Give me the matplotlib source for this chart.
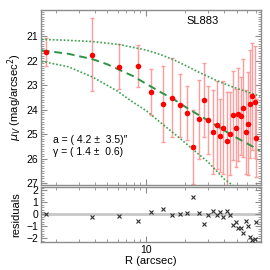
import matplotlib
matplotlib.use("Agg")
from matplotlib import pyplot as plt
from matplotlib.ticker import MultipleLocator, LogLocator, NullFormatter, FixedLocator

plt.rcParams['font.family'] = ['Liberation Sans', 'DejaVu Sans']
plt.rcParams['font.size'] = 8

# surface brightness profile (R in arcsec, mu in mag/arcsec^2)
radius = [1.67, 3.84, 6.15, 8.6, 10.9, 13.4, 15.9, 18.2, 20.5, 22.9,
          25.4, 27.7, 30.0, 32.5, 34.9, 37.3, 39.3, 42.0, 44.5, 46.5,
          49.2, 51.0, 53.8, 55.7, 58.6, 60.5, 63.4, 64.9, 68.4, 70.2]
mu = [21.65, 21.76, 22.25, 22.22, 23.29, 23.78, 23.51, 23.83, 24.14, 25.53,
      24.40, 23.61, 24.43, 24.92, 24.64, 25.06, 24.74, 25.29, 24.99, 24.24,
      24.76, 24.20, 24.27, 23.94, 24.92, 24.58, 23.76, 23.46, 23.69, 25.15]
mu_err = [0.56, 1.5, 0.92, 0.85, 0.95, 1.55, 1.6, 1.3, 1.1, 1.5,
          1.6, 1.5, 1.4, 1.7, 1.8, 1.5, 1.9, 2.0, 1.7, 1.8,
          1.6, 1.9, 1.6, 2.0, 1.7, 2.1, 2.2, 2.2, 2.3, 1.6]
residuals = [0.0, -0.25, -0.17, -0.58, 0.17, 0.42, -0.05, 0.0, 0.14, 1.45,
             0.14, -0.8, -0.08, 0.28, -0.08, 0.22, -0.19, 0.28, -0.08, -0.92,
             -0.64, -1.17, -1.17, -1.58, -0.58, -0.95, -1.89, -2.14, -2.05, -0.64]

# fitted model and its bounds
fit_r = [1.56, 2.5, 3.84, 5.0, 6.15, 7.89, 10.0, 13.0, 16.5, 21.5, 30.0, 40.0, 50.0, 62.0, 75.0]
fit_mu = [21.58, 21.72, 21.94, 22.15, 22.37, 22.63, 22.95, 23.30, 23.60, 24.00, 24.45, 24.86, 25.16, 25.43, 25.68]
upper_r = [1.56, 2.5, 3.84, 6.15, 10.0, 13.0, 16.5, 21.5, 26.5, 35.0, 45.0, 60.0, 75.0]
upper_mu = [21.13, 21.17, 21.22, 21.34, 21.57, 21.76, 21.98, 22.28, 22.52, 22.82, 23.05, 23.28, 23.45]
lower_r = [1.56, 2.5, 3.84, 6.0, 7.89, 10.0, 13.0, 17.0, 22.0, 30.0, 40.0, 48.0]
lower_mu = [22.03, 22.25, 22.67, 23.25, 23.70, 24.05, 24.55, 25.05, 25.55, 26.15, 26.85, 27.15]

frame = '#8c8c8c'
fig = plt.figure(figsize=(2.7, 2.7), dpi=100)
ax = fig.add_axes([0.152, 0.315, 0.813, 0.648])
axr = fig.add_axes([0.152, 0.104, 0.813, 0.204], sharex=ax)

ax.errorbar(radius, mu, yerr=mu_err, fmt='none', ecolor='#ff9c9c', elinewidth=1,
            capsize=1.5, capthick=1, zorder=2)
ax.plot(fit_r, fit_mu, ls=(0, (4, 2.5)), color='#2e9444', lw=1.4, zorder=3)
ax.plot(upper_r, upper_mu, ls=(0, (1, 1.2)), color='#3aa04e', lw=1.2, zorder=3)
ax.plot(lower_r, lower_mu, ls=(0, (1, 1.2)), color='#3aa04e', lw=1.2, zorder=3)
ax.plot(radius, mu, 'o', color='#ff0000', ms=4, mec='none', zorder=4)

ax.set_xscale('log')
ax.set_xlim(1.54, 76)
ax.set_ylim(27.08, 19.93)
ax.yaxis.set_major_locator(FixedLocator([21, 22, 23, 24, 25, 26, 27]))
ax.yaxis.set_minor_locator(MultipleLocator(0.1))
ax.set_ylabel(r'$\mu_V$ (mag/arcsec$^2$)', labelpad=2)
ax.text(0.738, 0.937, 'SL883', transform=ax.transAxes, ha='center', va='center', fontsize=8)
ax.text(0.055, 0.257, 'a = ( 4.2 \u00b1  3.5)\u2033', transform=ax.transAxes, va='center', fontsize=7.5)
ax.text(0.055, 0.189, '\u03b3 = ( 1.4 \u00b1  0.6)', transform=ax.transAxes, va='center', fontsize=7.5)
plt.setp(ax.get_xticklabels(), visible=False)

axr.axhline(0, color='#c8c8c8', lw=2, zorder=1)
axr.plot(radius, residuals, 'x', color='#303030', ms=3, mew=0.8, zorder=3)
axr.set_ylim(-2.3, 2.3)
axr.yaxis.set_major_locator(FixedLocator([-2, -1, 0, 1, 2]))
axr.yaxis.set_minor_locator(MultipleLocator(0.2))
axr.set_yticklabels(['\u22122', '\u22121', '0', '1', '2'])
axr.set_ylabel('residuals', labelpad=4)
axr.set_xlabel('R (arcsec)', labelpad=1)
axr.xaxis.set_major_locator(FixedLocator([10]))
axr.xaxis.set_minor_locator(LogLocator(base=10, subs=range(2, 10)))
axr.xaxis.set_minor_formatter(NullFormatter())
axr.set_xticklabels(['10'])

for a in (ax, axr):
    for s in a.spines.values():
        s.set_color(frame)
        s.set_linewidth(1)
    a.tick_params(which='both', direction='in', top=True, right=True, color=frame, pad=2,
                  labelsize=7.5)
    a.tick_params(which='major', length=4, width=0.8)
    a.tick_params(which='minor', length=2, width=0.6)

fig.savefig('out.png', dpi=100)
